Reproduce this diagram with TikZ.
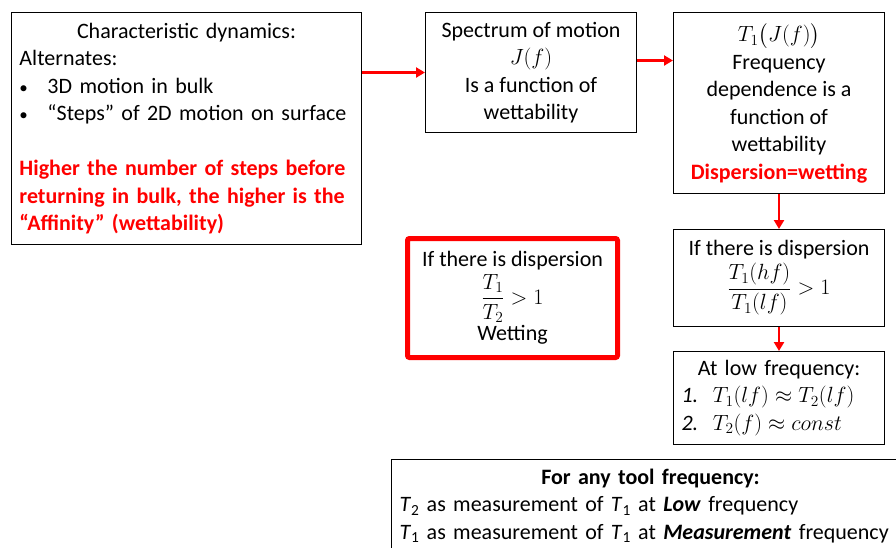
\RequirePackage{fix-cm}
\documentclass[tikz,border=0pt]{standalone}
\usepackage{amsmath}
\usepackage{fontspec}
\setmainfont{Carlito}
\usepackage{tikz}
\usetikzlibrary{arrows.meta, positioning, calc}

\newcommand{\Tsub}[1]{\textit{T}\textsubscript{#1}}
\newcommand{\itembullet}{\makebox[28pt][l]{\fontsize{17}{17}\selectfont\textbullet}}

\begin{document}
\begin{tikzpicture}[
    x=1pt, y=1pt,
    % --- Global Styles ---
    base/.style={draw, line width=1pt, align=center, inner xsep=8pt, inner ysep=0pt,
        font=\fontsize{22}{27.5}\selectfont},
    box/.style={base, rectangle},
    keybox/.style={base, rectangle, draw=red, line width=5pt, rounded corners=2pt},
    arrow/.style={-{Triangle[length=9pt, width=10pt]}, line width=2.6pt, color=red}
]
    \path[use as bounding box, clip] (0,0) rectangle (896,-547);

    % --- Nodes & Positioning ---

    \node[box, anchor=north west, minimum width=350pt, minimum height=232pt, text width=334pt, align=left]
        (dynamics) at (11,-12)
        {\makebox[\linewidth][c]{Characteristic dynamics:}\\
         Alternates:\\
         \itembullet 3D motion in bulk\\
         \itembullet ``Steps'' of 2D motion on surface\\[27.5pt]
         \textcolor{red}{\bfseries Higher the number of steps before}\\
         \textcolor{red}{\bfseries returning in bulk, the higher is the}\\
         \textcolor{red}{\bfseries ``Affinity'' (wettability)}};

    \node[box, right=63pt of dynamics.north east, anchor=north west, minimum width=211pt, minimum height=120pt]
        (spectrum) {Spectrum of motion\\ $J(f)$\\ Is a function of\\ wettability};

    \node[box, right=36pt of spectrum.north east, anchor=north west, minimum width=211pt, minimum height=181pt]
        (relax) {$T_1\bigl(J(f)\bigr)$\\ Frequency\\ dependence is a\\ function of\\ wettability\\
         \textcolor{red}{\bfseries Dispersion=wetting}};

    \node[box, below=35pt of relax, minimum width=211pt, minimum height=97pt]
        (ratio) {If there is dispersion\\[3pt] $\dfrac{T_1(hf)}{T_1(lf)} > 1$};

    \node[box, below=24pt of ratio, minimum width=211pt, minimum height=93pt, text width=195pt, align=left]
        (lowfreq) {\makebox[\linewidth][c]{At low frequency:}\\
         \textit{1.}\ \ $T_1(lf) \approx T_2(lf)$\\
         \textit{2.}\ \ $T_2(f) \approx const$};

    \node[keybox, minimum width=210pt, minimum height=119pt] (wetting) at (512.5,-298)
        {If there is dispersion\\[3pt] $\dfrac{T_1}{T_2} > 1$\\[2pt] Wetting};

    \node[box, anchor=north west, minimum width=518pt, minimum height=93pt, text width=502pt, align=left]
        (tool) at (391,-459)
        {\makebox[\linewidth][c]{\bfseries For any tool frequency:}\\
         \Tsub{2} as measurement of \Tsub{1} at \textbf{\textit{Low}} frequency\\
         \Tsub{1} as measurement of \Tsub{1} at \textbf{\textit{Measurement}} frequency};

    % --- Flow ---
    \draw[arrow] (dynamics.east |- spectrum.west) -- (spectrum.west);
    \draw[arrow] ([yshift=12pt]spectrum.east) -- ([yshift=12pt]spectrum.east -| relax.west);
    \draw[arrow] (relax) -- (ratio);
    \draw[arrow] (ratio) -- (lowfreq);

\end{tikzpicture}
\end{document}
